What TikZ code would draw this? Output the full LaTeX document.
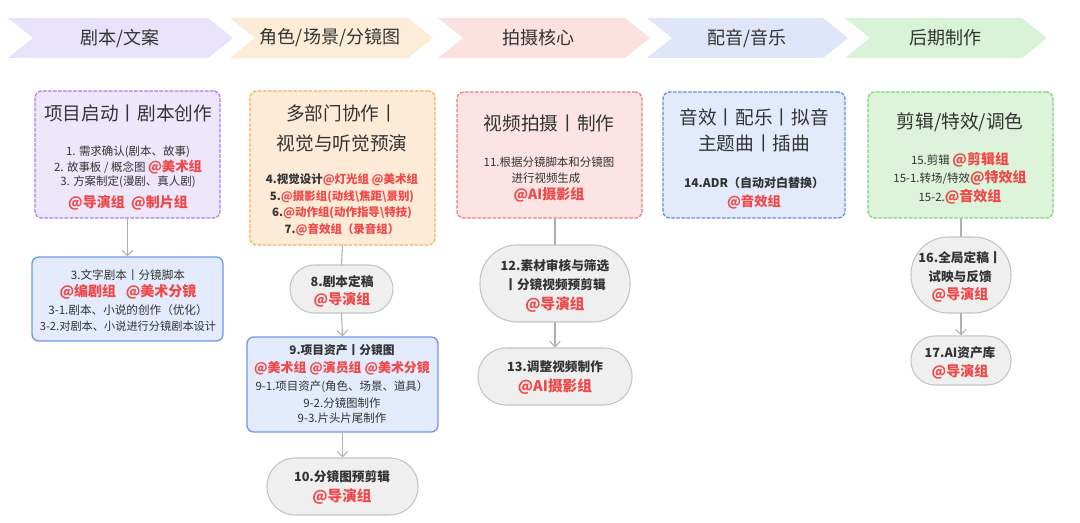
\documentclass[tikz,border=0pt]{standalone}
\usepackage{fontspec}
\setmainfont{Noto Sans CJK SC}
\usetikzlibrary{arrows.meta,fit}
\definecolor{ink}{HTML}{333333}
\definecolor{tagred}{HTML}{F04848}
\definecolor{chA}{HTML}{E8E2FB}
\definecolor{chB}{HTML}{FDECD8}
\definecolor{chC}{HTML}{FCE1E1}
\definecolor{chD}{HTML}{DFE6FA}
\definecolor{chE}{HTML}{D9F3D6}
\definecolor{stA}{HTML}{EEE7FC}
\definecolor{lnA}{HTML}{A57EF0}
\definecolor{stB}{HTML}{FDEBD7}
\definecolor{lnB}{HTML}{F4B266}
\definecolor{stC}{HTML}{FDE4E4}
\definecolor{lnC}{HTML}{EF8080}
\definecolor{stD}{HTML}{E3EAFB}
\definecolor{lnD}{HTML}{5E8DEA}
\definecolor{stE}{HTML}{DDF3DA}
\definecolor{lnE}{HTML}{7CD67A}
\definecolor{cardfill}{HTML}{E4EBFC}
\definecolor{cardline}{HTML}{7096EE}
\definecolor{pillfill}{HTML}{EFEFEF}
\definecolor{pillline}{HTML}{C4C4C4}
\definecolor{linegray}{HTML}{B0B0B0}
\newcommand\fsz[1]{\fontsize{#1}{#1}\selectfont}
\newcommand\tagr[1]{{\color{tagred}\bfseries #1}}
\begin{document}
\begin{tikzpicture}[x=0.75pt, y=-0.75pt, line join=round, line cap=round,
  ttl/.style={text=ink, font=\fsz{14}},
  txt/.style={text=ink, font=\fsz{8.6}},
  btxt/.style={text=ink, font=\bfseries\fsz{9.5}},
  tag/.style={text=tagred, font=\bfseries\fsz{10.5}},
  stage/.style={inner sep=0, rounded corners=5pt, line width=1pt, dash pattern=on 2.2pt off 1.6pt},
  card/.style={inner sep=0, rounded corners=5pt, line width=1pt, draw=cardline, fill=cardfill},
  pill/.style={inner sep=0, rounded corners=#1, draw=pillline, fill=pillfill, line width=0.8pt},
  link/.style={draw=linegray, line width=0.8pt},
  arr/.style={link, -{Straight Barb[length=4pt, width=8pt]}}]
\useasboundingbox (0,0) rectangle (1080,523);
% phase headers
\foreach \L/\T/\c/\tx/\lab [count=\i] in {8/233/chA/120/{剧本/文案}, 230/433/chB/330/{角色/场景/分镜图},
    438/650/chC/538/{拍摄核心}, 647/848/chD/747/{配音/音乐}, 845/1047/chE/945/{后期制作}}{
  \fill[\c] (\L,18) -- (\T-25,18) -- (\T,38) -- (\T-25,58) -- (\L,58) -- (\L+25,38) -- cycle;
  \node[text=ink, font=\fsz{13.5}] (ph\i) at (\tx,38) {\lab};
}
% column 1
\node[stage, fill=stA, draw=lnA, fit={(35,91) (220,218)}] (start) {};
\node[ttl] (startT) at (128,113) {项目启动丨剧本创作};
\node[txt] (startL1) at (128,152) {1. 需求确认(剧本、故事)};
\node[txt] (startL2) at (128,167) {2. 故事板 / 概念图 \tagr{\fsz{10}@美术组}};
\node[txt] (startL3) at (128,182) {3. 方案制定(漫剧、真人剧)};
\node[tag] (startL4) at (128,203) {@导演组\ \ @制片组};
\node[card, fit={(32,257) (223,341)}] (script) {};
\node[txt, font=\fsz{8.7}] (scriptL1) at (128,275) {3.文字剧本丨分镜脚本};
\node[tag] (scriptL2) at (128,292) {@编剧组\ \ \ @美术分镜};
\node[txt, font=\fsz{8.7}] (scriptL3) at (128,310) {3-1.剧本、小说的创作（优化）};
\node[txt, font=\fsz{8.4}] (scriptL4) at (128,326) {3-2.对剧本、小说进行分镜剧本设计};
\draw[arr] (start.south) -- (script.north);
% column 2
\node[stage, fill=stB, draw=lnB, fit={(250,91) (435,245)}] (prev) {};
\node[ttl] (prevT1) at (342,113) {多部门协作丨};
\node[ttl] (prevT2) at (342,143) {视觉与听觉预演};
\node[txt, font=\bfseries\fsz{8.6}] (prevL1) at (342,180) {4.视觉设计\tagr{@灯光组 @美术组}};
\node[txt, font=\bfseries\fsz{8.6}] (prevL2) at (342,197) {5.\tagr{@摄影组(动线\textbackslash 焦距\textbackslash 景别)}};
\node[txt, font=\bfseries\fsz{8.6}] (prevL3) at (342,213) {6.\tagr{@动作组(动作指导\textbackslash 特技)}};
\node[txt, font=\bfseries\fsz{8.6}] (prevL4) at (342,230) {7.\tagr{@音效组（录音组）}};
\node[pill=18pt, fit={(290,265) (393,313)}] (lock8) {};
\node[btxt] (lock8a) at (342,282) {8.剧本定稿};
\node[tag] (lock8b) at (342,300) {@导演组};
\node[card, fit={(247,337) (438,432)}] (assets) {};
\node[txt, font=\bfseries\fsz{8.8}] (assetsL1) at (342,350) {9.项目资产丨分镜图};
\node[tag, font=\bfseries\fsz{9.7}] (assetsL2) at (342,368) {@美术组 @演员组 @美术分镜};
\node[txt] (assetsL3) at (342,387) {9-1.项目资产(角色、场景、道具）};
\node[txt] (assetsL4) at (342,403) {9-2.分镜图制作};
\node[txt] (assetsL5) at (342,418) {9-3.片头片尾制作};
\node[pill=21pt, fit={(267,458) (418,515)}] (rough10) {};
\node[btxt] (rough10a) at (342,477) {10.分镜图预剪辑};
\node[tag, font=\bfseries\fsz{11}] (rough10b) at (342,497) {@导演组};
\draw[link] (prev.south) -- (lock8.north);
\draw[arr] (lock8.south) -- (assets.north);
\draw[arr] (assets.south) -- (rough10.north);
% column 3
\node[stage, fill=stC, draw=lnC, fit={(457,92) (642,218)}] (shoot) {};
\node[ttl] (shootT) at (549,123) {视频拍摄丨制作};
\node[txt] (shootL1) at (549,162) {11.根据分镜脚本和分镜图};
\node[txt] (shootL2) at (546,178) {进行视频生成};
\node[tag] (shootL3) at (549,195) {@AI摄影组};
\node[pill=28pt, fit={(480,245) (630,322)}] (review12) {};
\node[btxt] (review12a) at (555,266) {12.素材审核与筛选};
\node[btxt] (review12b) at (555,285) {丨分镜视频预剪辑};
\node[tag, font=\bfseries\fsz{11}] (review12c) at (555,305) {@导演组};
\node[pill=21pt, fit={(478,348) (632,405)}] (adjust13) {};
\node[btxt] (adjust13a) at (555,367) {13.调整视频制作};
\node[tag, font=\bfseries\fsz{11}] (adjust13b) at (555,387) {@AI摄影组};
\draw[link] (review12.north |- shoot.south) -- (review12.north);
\draw[arr] (review12.south) -- (adjust13.north);
% column 4
\node[stage, fill=stD, draw=lnD, fit={(663,92) (845,218)}] (sound) {};
\node[ttl] (soundT1) at (754,117) {音效丨配乐丨拟音};
\node[ttl] (soundT2) at (754,143) {主题曲丨插曲};
\node[txt, font=\bfseries\fsz{9}] (soundL1) at (754,183) {14.ADR（自动对白替换）};
\node[tag, font=\bfseries\fsz{10}] (soundL2) at (754,202) {@音效组};
% column 5
\node[stage, fill=stE, draw=lnE, fit={(868,92) (1053,218)}] (post) {};
\node[ttl] (postT) at (960,122) {剪辑/特效/调色};
\node[txt] (postL1) at (960,160) {15.剪辑 \tagr{\fsz{10.5}@剪辑组}};
\node[txt] (postL2) at (960,178) {15-1.转场/特效\tagr{\fsz{10.5}@特效组}};
\node[txt] (postL3) at (960,197) {15-2.\tagr{\fsz{10.5}@音效组}};
\node[pill=28pt, fit={(911,237) (1011,313)}] (final16) {};
\node[btxt] (final16a) at (960,258) {16.全局定稿丨};
\node[btxt] (final16b) at (960,277) {试映与反馈};
\node[tag] (final16c) at (960,295) {@导演组};
\node[pill=18pt, fit={(911,336) (1011,385)}] (lib17) {};
\node[btxt] (lib17a) at (960,353) {17.AI资产库};
\node[tag] (lib17b) at (960,372) {@导演组};
\draw[link] (final16.north |- post.south) -- (final16.north);
\draw[arr] (final16.south) -- (lib17.north);
\end{tikzpicture}
\end{document}
